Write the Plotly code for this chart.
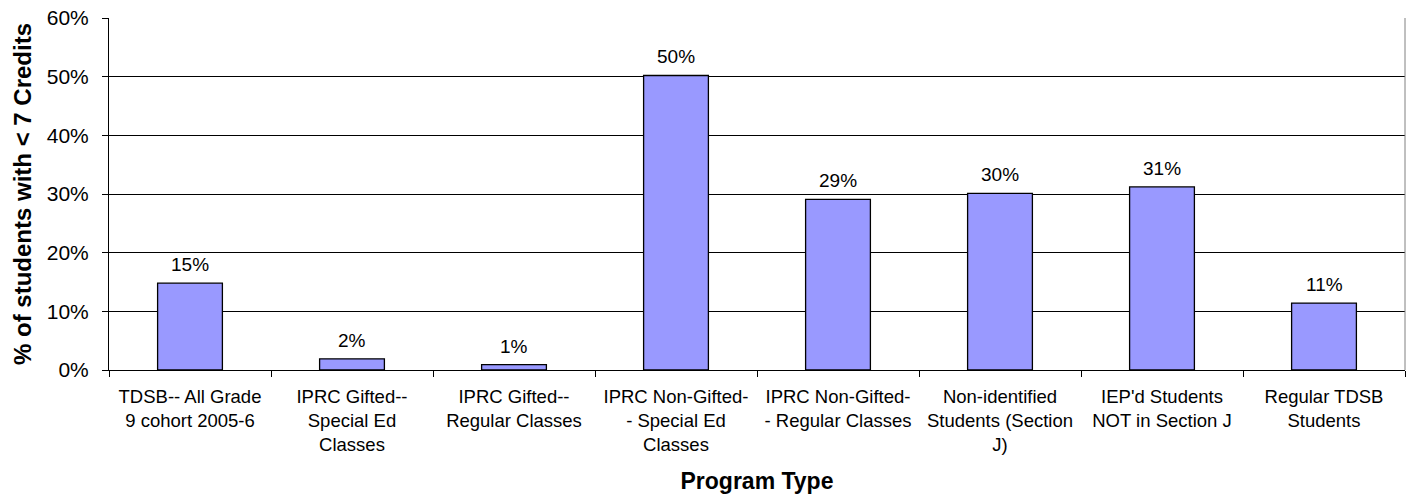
import plotly.graph_objects as go

categories = [
    "TDSB-- All Grade<br>9 cohort 2005-6",
    "IPRC Gifted--<br>Special Ed<br>Classes",
    "IPRC Gifted--<br>Regular Classes",
    "IPRC Non-Gifted-<br>- Special Ed<br>Classes",
    "IPRC Non-Gifted-<br>- Regular Classes",
    "Non-identified<br>Students (Section<br>J)",
    "IEP'd Students<br>NOT in Section J",
    "Regular TDSB<br>Students",
]
values = [0.148, 0.019, 0.009, 0.502, 0.291, 0.301, 0.312, 0.114]
y_ticks = [0, 0.1, 0.2, 0.3, 0.4, 0.5, 0.6]

FONT = "Liberation Sans, Arial, sans-serif"

fig = go.Figure()
fig.add_trace(go.Bar(
    x=categories,
    y=values,
    marker=dict(color="#9999FF", line=dict(color="black", width=1.3)),
    width=0.4,
    hoverinfo="skip",
))

for c, v in zip(categories, values):
    fig.add_annotation(
        x=c, y=v, text=f"{round(v*100):.0f}%", showarrow=False,
        yanchor="bottom", yshift=6,
        font=dict(family=FONT, size=19, color="black"),
    )

fig.add_shape(type="line", xref="paper", yref="paper", x0=1, x1=1, y0=0, y1=1,
              line=dict(color="#808080", width=1))

fig.update_layout(
    width=1411, height=498,
    margin=dict(l=109, r=6, t=18, b=128),
    plot_bgcolor="white", paper_bgcolor="white",
    showlegend=False,
    font=dict(family=FONT, color="black"),
    xaxis=dict(
        type="category",
        tickson="boundaries",
        ticks="outside", ticklen=6, tickcolor="black",
        showline=True, linecolor="black", linewidth=1,
        showgrid=False,
        tickfont=dict(family=FONT, size=18.5, color="black"),
        ticklabelstandoff=10,
        title=dict(text="<b>Program Type</b>", font=dict(family=FONT, size=23, color="black"), standoff=18),
        tickangle=0,
    ),
    yaxis=dict(
        range=[0, 0.6],
        tickvals=y_ticks,
        tickformat=".0%",
        ticks="outside", ticklen=6, tickcolor="black",
        showline=True, linecolor="black", linewidth=1,
        showgrid=True, gridcolor="black", gridwidth=1,
        zeroline=False,
        tickfont=dict(family=FONT, size=21, color="black"),
        ticklabelstandoff=9,
        title=dict(text="<b>% of students with < 7 Credits</b>", font=dict(family=FONT, size=24, color="black"), standoff=8),
    ),
)

fig.write_html("out.html")
